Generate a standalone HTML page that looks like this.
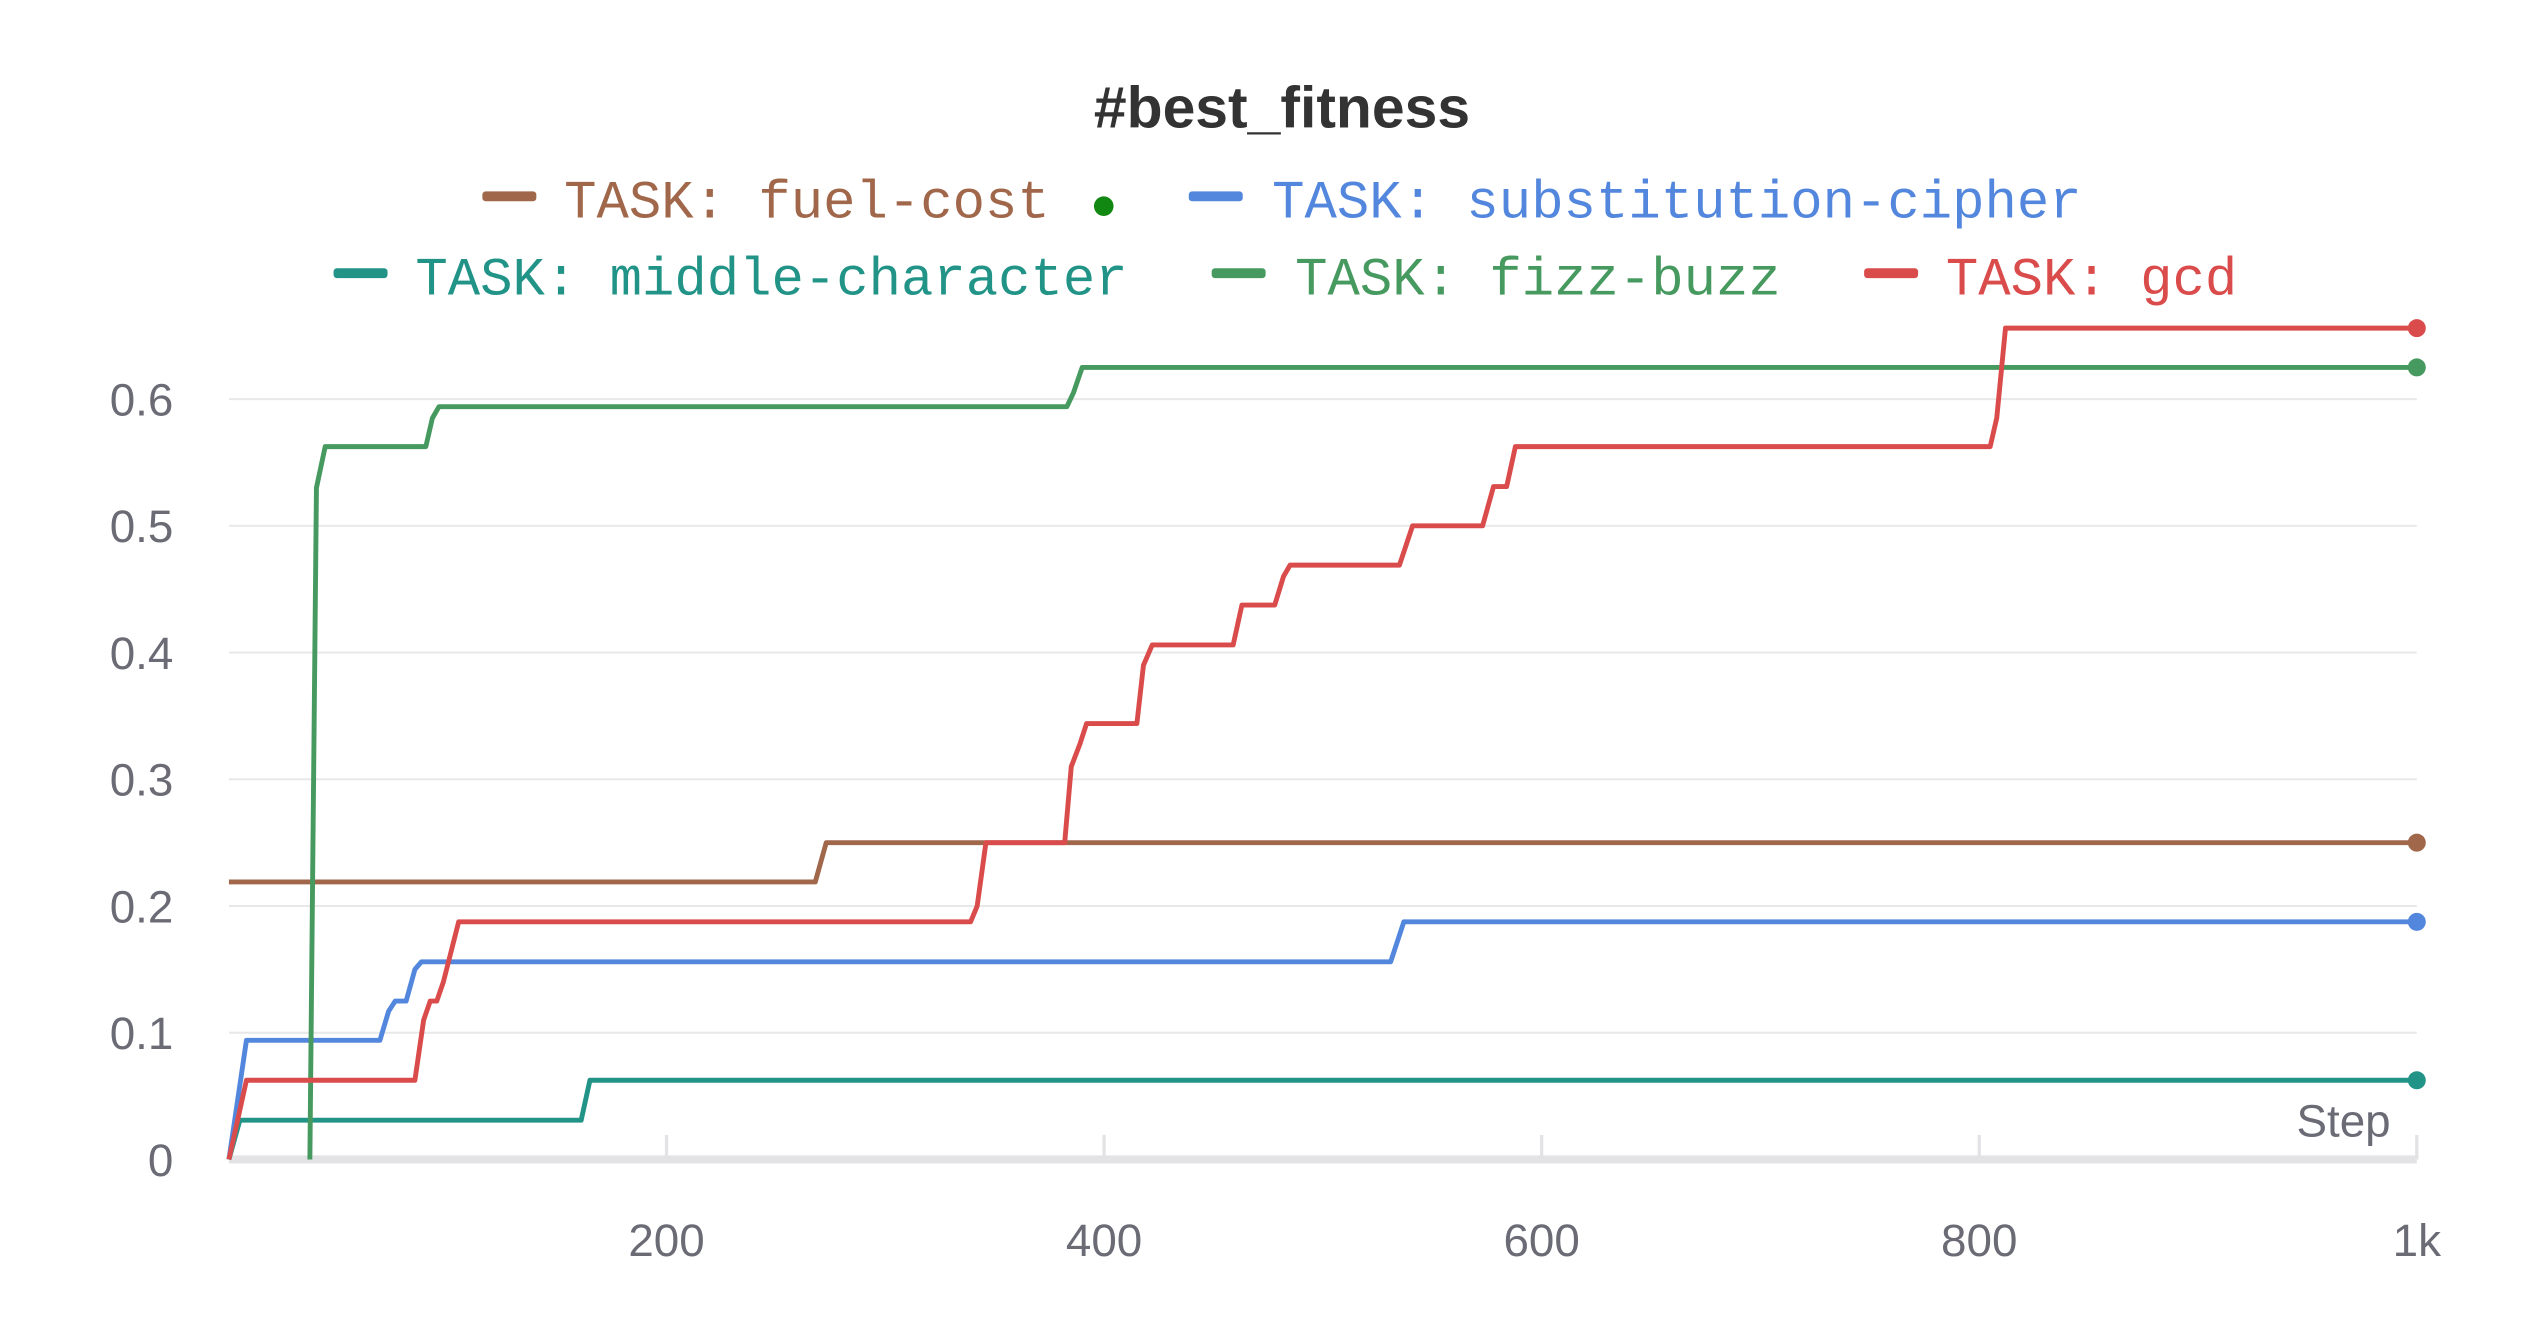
<!DOCTYPE html>
<html><head><meta charset="utf-8"><style>
html,body{margin:0;padding:0;background:#fff;}
svg{display:block;}
</style></head><body>
<svg id="chart" width="2528" height="1328" viewBox="0 0 1546 812" xmlns="http://www.w3.org/2000/svg">
<text x="784" y="78" text-anchor="middle" font-family="Liberation Sans, sans-serif" font-weight="bold" font-size="36" fill="#333">#best_fitness</text>
<g id="legend" font-family="Liberation Mono, monospace" font-size="33"></g>
<g id="grid"></g>
<g id="axes" font-family="Liberation Sans, sans-serif" font-size="28" fill="#6b6b76"></g>
<g id="series"></g>
</svg>
<script>
const yTicks = [0, 0.1, 0.2, 0.3, 0.4, 0.5, 0.6];
const yTickLabels = ["0", "0.1", "0.2", "0.3", "0.4", "0.5", "0.6"];
const xTicks = [200, 400, 600, 800, 1000];
const xTickLabels = ["200", "400", "600", "800", "1k"];
const seriesNames = ["fuel-cost", "substitution-cipher", "middle-character", "fizz-buzz", "gcd"];
const fuelCost = [[0,0.219],[268,0.219],[273,0.25],[1000,0.25]];
const substitutionCipher = [[0,0],[8,0.094],[69,0.094],[73,0.117],[76,0.125],[81,0.125],[85,0.15],[88,0.156],[531,0.156],[537,0.1875],[1000,0.1875]];
const middleCharacter = [[0,0],[5,0.031],[161,0.031],[165,0.0625],[1000,0.0625]];
const fizzBuzz = [[37,0],[40,0.53],[44,0.5625],[90,0.5625],[93,0.585],[96,0.594],[383,0.594],[386,0.605],[390,0.625],[1000,0.625]];
const gcd = [[0,0],[8,0.0625],[85,0.0625],[89,0.11],[92,0.125],[95,0.125],[98,0.14],[105,0.1875],[339,0.1875],[342,0.2],[346,0.25],[382,0.25],[385,0.31],[389,0.328],[392,0.344],[415,0.344],[418,0.39],[422,0.406],[459,0.406],[463,0.4375],[478,0.4375],[482,0.46],[485,0.469],[535,0.469],[541,0.5],[573,0.5],[578,0.531],[584,0.531],[588,0.5625],[805,0.5625],[808,0.585],[812,0.656],[1000,0.656]];

const NS = "http://www.w3.org/2000/svg";
const X0 = 140, X1 = 1478, Y0 = 709, Y6 = 244;
function xs(v){ return X0 + (X1 - X0) * v / 1000; }
function ys(v){ return Y0 - (Y0 - Y6) * v / 0.6; }
function mk(tag, attrs, parent){ const e = document.createElementNS(NS, tag); for (const k in attrs) e.setAttribute(k, attrs[k]); parent.appendChild(e); return e; }

const grid = document.getElementById('grid');
const axes = document.getElementById('axes');
yTicks.forEach((t, i) => {
  if (i > 0) {
    const g = mk('line', {x1: X0, x2: X1, y1: ys(t), y2: ys(t), stroke: '#e8e8e8', 'stroke-width': 1.2}, grid);
    
    
  }
  const l = mk('text', {x: 106, y: ys(t) + 10, 'text-anchor': 'end'}, axes);
  l.textContent = yTickLabels[i];
  
  
});
const base = mk('line', {x1: X0, x2: X1, y1: Y0, y2: Y0, stroke: '#e3e3e6', 'stroke-width': 5}, axes);


xTicks.forEach((t, i) => {
  const tk = mk('line', {x1: xs(t), x2: xs(t), y1: 694, y2: 709, stroke: '#e3e3e6', 'stroke-width': 2}, axes);
  
  
  const l = mk('text', {x: xs(t), y: 768, 'text-anchor': 'middle'}, axes);
  l.textContent = xTickLabels[i];
  
  
});
const st = mk('text', {x: 1462, y: 695, 'text-anchor': 'end'}, axes);
st.textContent = 'Step';



const seriesData = [fuelCost, substitutionCipher, middleCharacter, fizzBuzz, gcd];
const colors = ['#a0674b', '#5387dd', '#229487', '#479a5f', '#da4c4c'];
const ser = document.getElementById('series');
seriesData.forEach((d, i) => {
  const p = mk('polyline', {points: d.map(q => xs(q[0]) + ',' + ys(q[1])).join(' '), fill: 'none', stroke: colors[i], 'stroke-width': 3, 'stroke-linejoin': 'round'}, ser);
  
  
  const last = d[d.length - 1];
  const c = mk('circle', {cx: xs(last[0]), cy: ys(last[1]), r: 5.5, fill: colors[i]}, ser);
  
  
});

const legend = document.getElementById('legend');
const legendPos = [[295, 345, 133], [727, 778, 133], [204, 254, 180], [741, 792, 180], [1140, 1190, 180]];
seriesNames.forEach((n, i) => {
  const g = mk('g', {}, legend);
  
  
  const [sx, tx, y] = legendPos[i];
  mk('rect', {x: sx, y: y - 16, width: 33, height: 6, rx: 2, fill: colors[i]}, g);
  const t = mk('text', {x: tx, y: y, fill: colors[i]}, g);
  t.textContent = 'TASK: ' + n;
});
const dot = mk('circle', {cx: 675, cy: 126, r: 6, fill: '#118811'}, legend);


</script>
</body></html>
